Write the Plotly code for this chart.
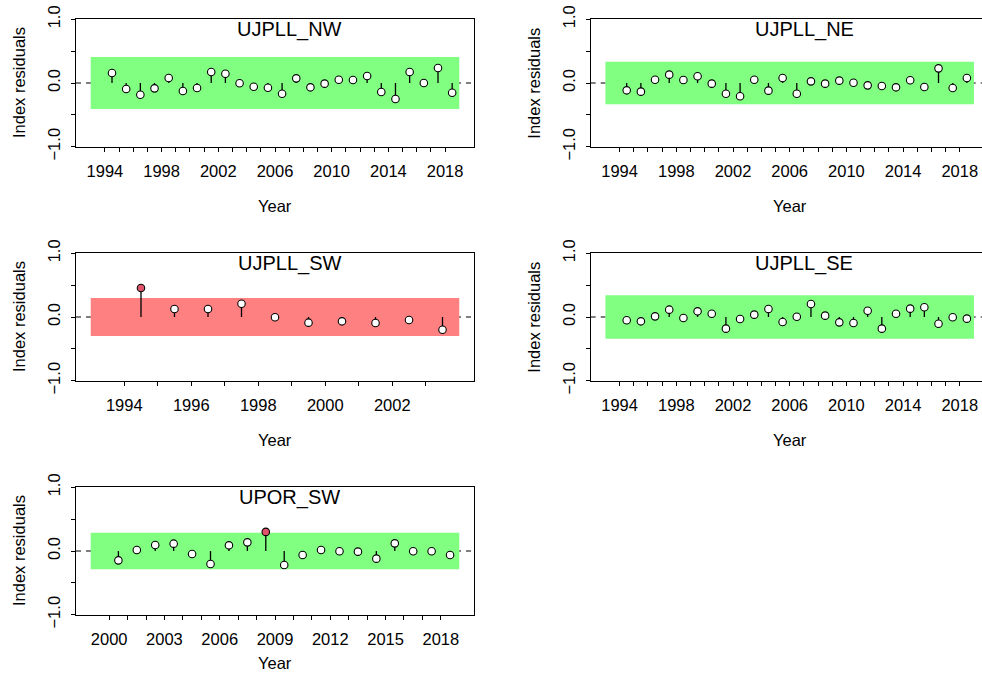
import plotly.graph_objects as go

W, H = 982, 685

# ---------------- data ----------------
nw_years = list(range(1994, 2019))
nw_resid = [0.157, -0.094, -0.184, -0.084, 0.078, -0.126, -0.079, 0.173, 0.146, -0.005,
            -0.058, -0.074, -0.168, 0.073, -0.068, -0.010, 0.052, 0.047, 0.110, -0.142,
            -0.252, 0.173, 0.000, 0.235, -0.153]

ne_years = list(range(1994, 2019))
ne_resid = [-0.115, -0.136, 0.052, 0.131, 0.047, 0.105, -0.010, -0.168, -0.209, 0.052,
            -0.120, 0.079, -0.168, 0.026, -0.010, 0.037, 0.005, -0.037, -0.047, -0.068,
            0.042, -0.063, 0.230, -0.079, 0.079]

sw_years = list(range(1994, 2004))
sw_resid = [0.455, 0.126, 0.126, 0.209, -0.005, -0.089, -0.068, -0.094, -0.047, -0.199]

se_years = list(range(1994, 2019))
se_resid = [-0.052, -0.068, 0.010, 0.115, -0.016, 0.089, 0.052, -0.183, -0.031, 0.037,
            0.126, -0.079, 0.005, 0.204, 0.021, -0.084, -0.094, 0.099, -0.183, 0.052,
            0.131, 0.152, -0.105, -0.005, -0.026]

upor_years = list(range(2000, 2019))
upor_resid = [-0.147, 0.016, 0.094, 0.115, -0.047, -0.204, 0.089, 0.136, 0.300, -0.220,
              -0.063, 0.016, -0.005, -0.010, -0.120, 0.120, -0.005, -0.005, -0.063]

names = ["UJPLL_NW", "UJPLL_NE", "UJPLL_SW", "UJPLL_SE", "UPOR_SW"]
sigma_limits = [0.41, 0.335, 0.30, 0.34, 0.285]
runs_pass = [True, True, False, True, True]
label_steps = [4, 4, 2, 4, 3]
y_tick_vals = [-1.0, -0.5, 0.0, 0.5, 1.0]
y_tick_text = ["\u22121.0", "", "0.0", "", "1.0"]

series = [(nw_years, nw_resid), (ne_years, ne_resid), (sw_years, sw_resid),
          (se_years, se_resid), (upor_years, upor_resid)]

# ---------------- layout geometry (pixels) ----------------
col_x = [(76.0, 474.0), (590.7, 988.7)]
row_top = [19.3, 253.3, 487.3]
year_gap = [59, 59, 48]
box_h = 127.4
cells = [(0, 0), (1, 0), (0, 1), (1, 1), (0, 2)]

FONT = "Liberation Sans, Arial, sans-serif"
GREEN = "rgb(128,255,128)"
RED_BG = "rgb(255,128,128)"
RED_PT = "#DF536B"

fig = go.Figure()
shapes, annotations = [], []
layout = {}

for i, ((yrs, res), (c, r)) in enumerate(zip(series, cells)):
    n = i + 1
    xa = "x" if n == 1 else f"x{n}"
    ya = "y" if n == 1 else f"y{n}"
    x0p, x1p = col_x[c]
    top = row_top[r]
    bot = top + box_h
    lo, hi = yrs[0] - 1, yrs[-1] + 1
    ext = 0.04 * (hi - lo)
    xr = [lo - ext, hi + ext]
    if x1p > W:
        frac = (W - x0p) / (x1p - x0p)
        xr = [xr[0], xr[0] + frac * (xr[1] - xr[0])]
        dom_x = [x0p / W, 1.0]
        ymirror = False
    else:
        dom_x = [x0p / W, x1p / W]
        ymirror = True
    dom_y = [1 - bot / H, 1 - top / H]

    xs = [y + 0.5 for y in yrs]
    lim = sigma_limits[i]

    # shaded band
    shapes.append(dict(type="rect", xref=xa, yref=ya, x0=lo, x1=hi, y0=-lim, y1=lim,
                       fillcolor=GREEN if runs_pass[i] else RED_BG,
                       line=dict(width=0), layer="below"))
    # dashed zero line
    shapes.append(dict(type="line", xref=f"{xa} domain", yref=ya, x0=0, x1=1, y0=0, y1=0,
                       line=dict(color="black", width=1.1, dash="5px,5px"), layer="below"))

    # sticks
    sx, sy = [], []
    for xv, yv in zip(xs, res):
        sx += [xv, xv, None]
        sy += [0, yv, None]
    fig.add_trace(go.Scatter(x=sx, y=sy, mode="lines", xaxis=xa, yaxis=ya,
                             line=dict(color="black", width=1.3), hoverinfo="skip",
                             showlegend=False))
    cols = [RED_PT if abs(v) > lim else "white" for v in res]
    fig.add_trace(go.Scatter(x=xs, y=res, mode="markers", xaxis=xa, yaxis=ya,
                             marker=dict(size=7.5, color=cols, line=dict(color="black", width=1.1)),
                             showlegend=False))

    step = label_steps[i]
    tv = list(range(yrs[0], yrs[-1] + 1))
    tt = [str(t) if (t - yrs[0]) % step == 0 else "" for t in tv]

    layout["xaxis" if n == 1 else f"xaxis{n}"] = dict(
        domain=dom_x, anchor=ya, range=xr, showgrid=False, zeroline=False, automargin=False,
        showline=True, linecolor="black", linewidth=1, mirror=True,
        ticks="outside", ticklen=4, tickwidth=1, tickcolor="black", ticklabelstandoff=5,
        tickvals=tv, ticktext=tt, tickfont=dict(size=16.5, color="black", family=FONT))
    layout["yaxis" if n == 1 else f"yaxis{n}"] = dict(
        domain=dom_y, anchor=xa, range=[-1, 1], showgrid=False, zeroline=False, automargin=False,
        showline=True, linecolor="black", linewidth=1, mirror=ymirror,
        ticks="outside", ticklen=4, tickwidth=1, tickcolor="black", ticklabelstandoff=4,
        tickvals=y_tick_vals, ticktext=y_tick_text, tickangle=-90,
        tickfont=dict(size=16.5, color="black", family=FONT))

    # panel title
    annotations.append(dict(text=names[i], xref="paper", yref="paper",
                            x=((x0p + x1p) / 2 + 14.5) / W, y=1 - (top + 10.5) / H,
                            xanchor="center", yanchor="middle", showarrow=False,
                            font=dict(size=20, color="black", family=FONT)))
    # axis titles
    annotations.append(dict(text="Year", xref="paper", yref="paper",
                            x=((x0p + x1p) / 2) / W, y=1 - (bot + year_gap[r]) / H,
                            xanchor="center", yanchor="middle", showarrow=False,
                            font=dict(size=16.5, color="black", family=FONT)))
    annotations.append(dict(text="Index residuals", xref="paper", yref="paper",
                            x=(x0p - 57) / W, y=1 - (top + box_h / 2) / H, textangle=-90,
                            xanchor="center", yanchor="middle", showarrow=False,
                            font=dict(size=16.5, color="black", family=FONT)))

fig.update_layout(width=W, height=H, margin=dict(l=0, r=0, t=0, b=0),
                  plot_bgcolor="white", paper_bgcolor="white",
                  shapes=shapes, annotations=annotations, showlegend=False,
                  font=dict(family=FONT, color="black"), **layout)

fig.write_html("out.html", config={"displayModeBar": False},
               post_script="document.body.style.margin='0';document.body.style.padding='0';")
